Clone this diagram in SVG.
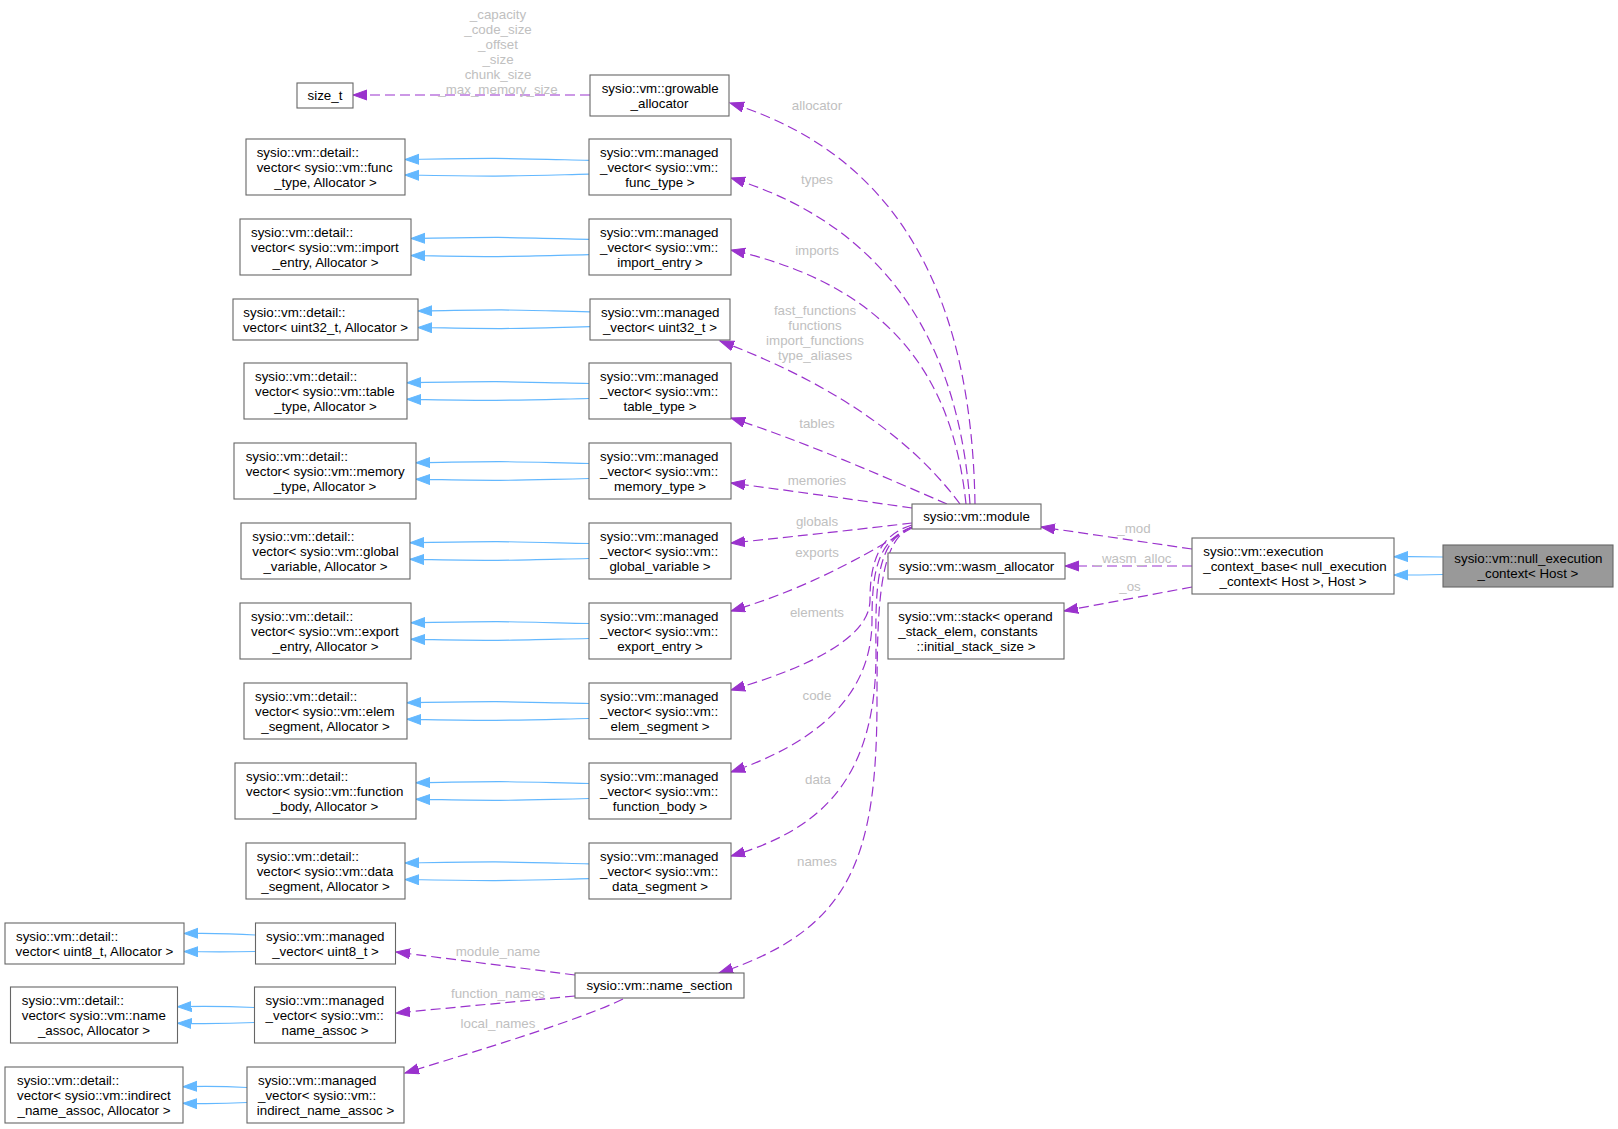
<svg xmlns="http://www.w3.org/2000/svg" width="1618" height="1129" viewBox="0 0 1618 1129">
<style>
text{font-family:"Liberation Sans",Arial,Helvetica,sans-serif;font-size:13.33px;fill:#000}
.c{text-anchor:middle}
.n rect{fill:#fff;stroke:#666;stroke-width:1.1}
.f rect{fill:#999;stroke:#666;stroke-width:1.1}
.lbl{fill:#c0c0c0;text-anchor:middle}
.inh{fill:none;stroke:#63b8ff;stroke-width:1.2;marker-end:url(#ab)}
.use{fill:none;stroke:#9a32cd;stroke-width:1.2;stroke-dasharray:10,5;marker-end:url(#ap)}
</style>
<defs>
<marker id="ab" markerUnits="userSpaceOnUse" markerWidth="16" markerHeight="12" refX="14" refY="5.5" orient="auto"><path d="M0,0.5 L14,5.5 L0,10.5 z" fill="#63b8ff" stroke="#63b8ff"/></marker>
<marker id="ap" markerUnits="userSpaceOnUse" markerWidth="16" markerHeight="12" refX="14" refY="5.5" orient="auto"><path d="M0,0.5 L14,5.5 L0,10.5 z" fill="#9a32cd" stroke="#9a32cd"/></marker>
</defs>
<g id="edges">
<path class="inh" d="M589,160.3 C489,158 505,158 405,159.5"/><path class="inh" d="M589,174.2 C489,176.5 505,176.5 405,175"/>
<path class="inh" d="M589,239.3 C489,237 511,237 411,238.5"/><path class="inh" d="M589,254.7 C489,257 511,257 411,255.5"/>
<path class="inh" d="M590,311.8 C490,309.5 518,309.5 418,311"/><path class="inh" d="M590,326.7 C490,329 518,329 418,327.5"/>
<path class="inh" d="M589,383.5 C489,381.2 507,381.2 407,382.7"/><path class="inh" d="M589,398.5 C489,400.8 507,400.8 407,399.3"/>
<path class="inh" d="M589,463.5 C489,461.2 516,461.2 416,462.7"/><path class="inh" d="M589,478.5 C489,480.8 516,480.8 416,479.3"/>
<path class="inh" d="M589,543.5 C489,541.2 510,541.2 410,542.7"/><path class="inh" d="M589,558.5 C489,560.8 510,560.8 410,559.3"/>
<path class="inh" d="M589,623.5 C489,621.2 511,621.2 411,622.7"/><path class="inh" d="M589,638.5 C489,640.8 511,640.8 411,639.3"/>
<path class="inh" d="M589,703.5 C489,701.2 507,701.2 407,702.7"/><path class="inh" d="M589,718.5 C489,720.8 507,720.8 407,719.3"/>
<path class="inh" d="M589,783.5 C489,781.2 516,781.2 416,782.7"/><path class="inh" d="M589,798.5 C489,800.8 516,800.8 416,799.3"/>
<path class="inh" d="M589,863.8 C489,861.5 505,861.5 405,863"/><path class="inh" d="M589,878.7 C489,881 505,881 405,879.5"/>
<path class="inh" d="M255.5,935 C225,933 214,933 184,933.5"/><path class="inh" d="M255.5,951.5 C225,952 214,952 184,951.5"/>
<path class="inh" d="M254.5,1007.5 C220,1006 212,1006 177.5,1006.7"/><path class="inh" d="M254.5,1022.5 C220,1024 212,1024 177.5,1023.3"/>
<path class="inh" d="M247,1087.5 C220,1086 210,1086 183,1086.7"/><path class="inh" d="M247,1102.5 C220,1104 210,1104 183,1103.3"/>
<path class="inh" d="M1443,557 C1420,556.5 1417,556.5 1394,556.7"/><path class="inh" d="M1443,574.5 C1420,575 1417,575 1394,575"/>
<path class="use" d="M590,95 L353,95"/>
<path class="use" d="M975,504 C972,320 915,160 730,103"/>
<path class="use" d="M970,504 C960,360 900,230 731,178"/>
<path class="use" d="M966,504 C955,400 910,290 731,250"/>
<path class="use" d="M960,504 C920,450 850,390 720,341"/>
<path class="use" d="M947,504 C880,475 800,440 731,418"/>
<path class="use" d="M912,508 C870,502 800,492 731,483"/>
<path class="use" d="M912,523 C870,528 800,536 731,543"/>
<path class="use" d="M912,528 C880,545 820,585 731,611"/>
<path class="use" d="M912,525 C880,535 870,560 870,600 C870,640 800,670 731,690"/>
<path class="use" d="M912,527 C878,540 872,570 872,620 C872,700 810,745 731,772"/>
<path class="use" d="M912,527 C878,540 875,580 876,650 C877,780 820,830 731,856"/>
<path class="use" d="M912,527 C880,540 877,600 877,700 C877,860 850,930 719,973"/>
<path class="use" d="M575,975 L396,952"/>
<path class="use" d="M575,996 L396,1013"/>
<path class="use" d="M623,999 C580,1020 480,1050 405,1073"/>
<path class="use" d="M1192,549 L1041,527"/>
<path class="use" d="M1192,566 L1065,566"/>
<path class="use" d="M1192,587 L1064,611"/>
<text class="lbl" x="498" y="18.5">_capacity</text>
<text class="lbl" x="498" y="33.5">_code_size</text>
<text class="lbl" x="498" y="48.5">_offset</text>
<text class="lbl" x="498" y="63.5">_size</text>
<text class="lbl" x="498" y="78.5">chunk_size</text>
<text class="lbl" x="498" y="93.5">_max_memory_size</text>
<text class="lbl" x="817" y="110">allocator</text>
<text class="lbl" x="817" y="183.5">types</text>
<text class="lbl" x="817" y="254.5">imports</text>
<text class="lbl" x="815" y="315">fast_functions</text>
<text class="lbl" x="815" y="330">functions</text>
<text class="lbl" x="815" y="345">import_functions</text>
<text class="lbl" x="815" y="360">type_aliases</text>
<text class="lbl" x="817" y="428">tables</text>
<text class="lbl" x="817" y="485">memories</text>
<text class="lbl" x="817" y="526">globals</text>
<text class="lbl" x="817" y="557">exports</text>
<text class="lbl" x="817" y="617">elements</text>
<text class="lbl" x="817" y="700">code</text>
<text class="lbl" x="818" y="784">data</text>
<text class="lbl" x="817" y="866">names</text>
<text class="lbl" x="498" y="956">module_name</text>
<text class="lbl" x="498" y="998">function_names</text>
<text class="lbl" x="498" y="1028">local_names</text>
<text class="lbl" x="1134" y="533">_mod</text>
<text class="lbl" x="1133" y="563">_wasm_alloc</text>
<text class="lbl" x="1130" y="590.5">_os</text>
</g>
<g id="size_t" class="n"><rect x="297" y="83" width="56" height="25"/><text class="c" x="325" y="100.2">size_t</text></g>
<g id="growable_allocator" class="n"><rect x="590" y="75" width="139" height="41"/><text x="601.7" y="92.7">sysio::vm::growable</text><text class="c" x="659.5" y="107.7">_allocator</text></g>
<g id="d_func" class="n"><rect x="246" y="139" width="159" height="56"/><text x="256.7" y="156.7">sysio::vm::detail::</text><text x="256.7" y="171.7">vector&lt; sysio::vm::func</text><text class="c" x="325.5" y="186.7">_type, Allocator &gt;</text></g>
<g id="d_import" class="n"><rect x="240" y="219" width="171" height="56"/><text x="251" y="236.7">sysio::vm::detail::</text><text x="251" y="251.7">vector&lt; sysio::vm::import</text><text class="c" x="325.5" y="266.7">_entry, Allocator &gt;</text></g>
<g id="d_uint32" class="n"><rect x="233" y="299" width="185" height="41"/><text x="243.3" y="316.7">sysio::vm::detail::</text><text class="c" x="325.5" y="331.7">vector&lt; uint32_t, Allocator &gt;</text></g>
<g id="d_table" class="n"><rect x="244" y="363" width="163" height="56"/><text x="255" y="380.7">sysio::vm::detail::</text><text x="255" y="395.7">vector&lt; sysio::vm::table</text><text class="c" x="325.5" y="410.7">_type, Allocator &gt;</text></g>
<g id="d_memory" class="n"><rect x="234" y="443" width="182" height="56"/><text x="245.7" y="460.7">sysio::vm::detail::</text><text x="245.7" y="475.7">vector&lt; sysio::vm::memory</text><text class="c" x="325" y="490.7">_type, Allocator &gt;</text></g>
<g id="d_global" class="n"><rect x="241" y="523" width="169" height="56"/><text x="252.3" y="540.7">sysio::vm::detail::</text><text x="252.3" y="555.7">vector&lt; sysio::vm::global</text><text class="c" x="325.5" y="570.7">_variable, Allocator &gt;</text></g>
<g id="d_export" class="n"><rect x="240" y="603" width="171" height="56"/><text x="251" y="620.7">sysio::vm::detail::</text><text x="251" y="635.7">vector&lt; sysio::vm::export</text><text class="c" x="325.5" y="650.7">_entry, Allocator &gt;</text></g>
<g id="d_elem" class="n"><rect x="244" y="683" width="163" height="56"/><text x="255" y="700.7">sysio::vm::detail::</text><text x="255" y="715.7">vector&lt; sysio::vm::elem</text><text class="c" x="325.5" y="730.7">_segment, Allocator &gt;</text></g>
<g id="d_funcbody" class="n"><rect x="235" y="763" width="181" height="56"/><text x="246" y="780.7">sysio::vm::detail::</text><text x="246" y="795.7">vector&lt; sysio::vm::function</text><text class="c" x="325.5" y="810.7">_body, Allocator &gt;</text></g>
<g id="d_data" class="n"><rect x="246" y="843" width="159" height="56"/><text x="256.7" y="860.7">sysio::vm::detail::</text><text x="256.7" y="875.7">vector&lt; sysio::vm::data</text><text class="c" x="325.5" y="890.7">_segment, Allocator &gt;</text></g>
<g id="d_uint8" class="n"><rect x="5" y="923" width="179" height="41"/><text x="16" y="940.7">sysio::vm::detail::</text><text class="c" x="94.5" y="955.7">vector&lt; uint8_t, Allocator &gt;</text></g>
<g id="d_nameassoc" class="n"><rect x="10.5" y="987" width="167" height="56"/><text x="21.8" y="1004.7">sysio::vm::detail::</text><text x="21.8" y="1019.7">vector&lt; sysio::vm::name</text><text class="c" x="94" y="1034.7">_assoc, Allocator &gt;</text></g>
<g id="d_indirect" class="n"><rect x="5" y="1067" width="178" height="56"/><text x="17" y="1084.7">sysio::vm::detail::</text><text x="17" y="1099.7">vector&lt; sysio::vm::indirect</text><text class="c" x="94" y="1114.7">_name_assoc, Allocator &gt;</text></g>
<g id="m_func" class="n"><rect x="589" y="139" width="142" height="56"/><text x="600" y="156.7">sysio::vm::managed</text><text x="600" y="171.7">_vector&lt; sysio::vm::</text><text class="c" x="660" y="186.7">func_type &gt;</text></g>
<g id="m_import" class="n"><rect x="589" y="219" width="142" height="56"/><text x="600" y="236.7">sysio::vm::managed</text><text x="600" y="251.7">_vector&lt; sysio::vm::</text><text class="c" x="660" y="266.7">import_entry &gt;</text></g>
<g id="m_uint32" class="n"><rect x="590" y="299" width="140" height="41"/><text x="601" y="316.7">sysio::vm::managed</text><text class="c" x="660" y="331.7">_vector&lt; uint32_t &gt;</text></g>
<g id="m_table" class="n"><rect x="589" y="363" width="142" height="56"/><text x="600" y="380.7">sysio::vm::managed</text><text x="600" y="395.7">_vector&lt; sysio::vm::</text><text class="c" x="660" y="410.7">table_type &gt;</text></g>
<g id="m_memory" class="n"><rect x="589" y="443" width="142" height="56"/><text x="600" y="460.7">sysio::vm::managed</text><text x="600" y="475.7">_vector&lt; sysio::vm::</text><text class="c" x="660" y="490.7">memory_type &gt;</text></g>
<g id="m_global" class="n"><rect x="589" y="523" width="142" height="56"/><text x="600" y="540.7">sysio::vm::managed</text><text x="600" y="555.7">_vector&lt; sysio::vm::</text><text class="c" x="660" y="570.7">global_variable &gt;</text></g>
<g id="m_export" class="n"><rect x="589" y="603" width="142" height="56"/><text x="600" y="620.7">sysio::vm::managed</text><text x="600" y="635.7">_vector&lt; sysio::vm::</text><text class="c" x="660" y="650.7">export_entry &gt;</text></g>
<g id="m_elem" class="n"><rect x="589" y="683" width="142" height="56"/><text x="600" y="700.7">sysio::vm::managed</text><text x="600" y="715.7">_vector&lt; sysio::vm::</text><text class="c" x="660" y="730.7">elem_segment &gt;</text></g>
<g id="m_funcbody" class="n"><rect x="589" y="763" width="142" height="56"/><text x="600" y="780.7">sysio::vm::managed</text><text x="600" y="795.7">_vector&lt; sysio::vm::</text><text class="c" x="660" y="810.7">function_body &gt;</text></g>
<g id="m_data" class="n"><rect x="589" y="843" width="142" height="56"/><text x="600" y="860.7">sysio::vm::managed</text><text x="600" y="875.7">_vector&lt; sysio::vm::</text><text class="c" x="660" y="890.7">data_segment &gt;</text></g>
<g id="m_uint8" class="n"><rect x="255.5" y="923" width="140" height="41"/><text x="266" y="940.7">sysio::vm::managed</text><text class="c" x="325.5" y="955.7">_vector&lt; uint8_t &gt;</text></g>
<g id="m_nameassoc" class="n"><rect x="254.5" y="987" width="141" height="56"/><text x="265.6" y="1004.7">sysio::vm::managed</text><text x="265.6" y="1019.7">_vector&lt; sysio::vm::</text><text class="c" x="325" y="1034.7">name_assoc &gt;</text></g>
<g id="m_indirect" class="n"><rect x="247" y="1067" width="157" height="56"/><text x="258" y="1084.7">sysio::vm::managed</text><text x="258" y="1099.7">_vector&lt; sysio::vm::</text><text class="c" x="325.5" y="1114.7">indirect_name_assoc &gt;</text></g>
<g id="name_section" class="n"><rect x="575" y="973" width="169" height="25"/><text class="c" x="659.5" y="990.2">sysio::vm::name_section</text></g>
<g id="module" class="n"><rect x="912" y="504" width="129" height="25"/><text class="c" x="976.5" y="521.2">sysio::vm::module</text></g>
<g id="wasm_allocator" class="n"><rect x="888" y="553" width="177" height="26"/><text class="c" x="976.5" y="570.7">sysio::vm::wasm_allocator</text></g>
<g id="stack" class="n"><rect x="888" y="603" width="176" height="56"/><text x="898.3" y="620.7">sysio::vm::stack&lt; operand</text><text x="898.3" y="635.7">_stack_elem, constants</text><text class="c" x="976" y="650.7">::initial_stack_size &gt;</text></g>
<g id="execution_context_base" class="n"><rect x="1192" y="538" width="202" height="56"/><text x="1203.3" y="555.7">sysio::vm::execution</text><text x="1203.3" y="570.7">_context_base&lt; null_execution</text><text class="c" x="1293" y="585.7">_context&lt; Host &gt;, Host &gt;</text></g>
<g id="null_execution_context" class="f"><rect x="1443" y="545" width="170" height="42"/><text x="1454.3" y="563.2">sysio::vm::null_execution</text><text class="c" x="1528" y="578.2">_context&lt; Host &gt;</text></g>
</svg>
